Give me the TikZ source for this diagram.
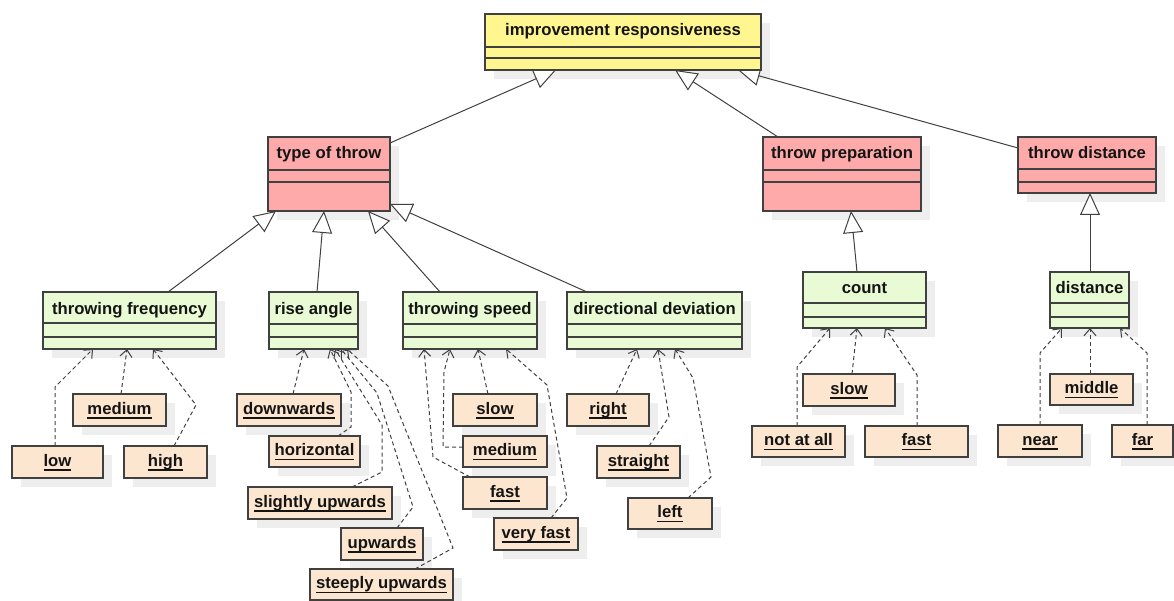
\documentclass[tikz,border=0pt]{standalone}
\usepackage{fontspec}
\setmainfont{Liberation Sans}
\usetikzlibrary{arrows.meta}
\pgfdeclarelayer{shadow}
\pgfdeclarelayer{edges}
\pgfsetlayers{shadow,edges,main}
\definecolor{yel}{RGB}{255,246,143}
\definecolor{redc}{RGB}{255,170,170}
\definecolor{grn}{RGB}{233,251,212}
\definecolor{pch}{RGB}{253,230,208}
\definecolor{shd}{RGB}{238,238,238}
\definecolor{lnc}{RGB}{64,64,64}
\definecolor{txt}{RGB}{20,20,20}
\newcommand\myul[1]{\leavevmode\setbox0\hbox{#1}\rlap{\rule[-4.7pt]{\wd0}{1.5pt}}\box0}
\newcommand\mkcls[9]{%
  \node[clsb, fill=#8, minimum width={#4-#2}, minimum height={#5-#3}, anchor=north west] (#1) at (#2,#3) {};
  \draw[cline] (#1.west |- 0,#6) -- (#1.east |- 0,#6);
  \draw[cline] (#1.west |- 0,#7) -- (#1.east |- 0,#7);
  \node[ttl, anchor=base] at ([yshift=-22pt]#1.north) {#9};}
\newcommand\mkinst[6]{%
  \node[instb, minimum width={#4-#2}, minimum height={#5-#3}, anchor=north west] (#1) at (#2,#3) {\myul{#6}};}
\begin{document}
\begin{tikzpicture}[x=1pt,y=-1pt,
  clsb/.style={draw=lnc, line width=1.3pt, rectangle, inner sep=0pt, outer sep=0pt},
  cline/.style={draw=lnc, line width=1.3pt},
  ttl/.style={font=\fontsize{16.7}{20}\selectfont\bfseries, text=txt, inner sep=0pt},
  instb/.style={draw=lnc, line width=1.3pt, fill=pch, rectangle, inner sep=0pt, outer sep=0pt,
    font=\fontsize{16.7}{20}\selectfont\bfseries, text=txt, text height=12pt, text depth=3.5pt},
  gen/.style={draw=lnc, line width=1pt, -{Triangle[length=22pt,width=20pt,fill=white]}},
  dep/.style={draw=lnc, line width=1pt, dash pattern=on 4pt off 3pt, -{Straight Barb[length=7pt,width=12pt]}}]
\useasboundingbox (0,0) rectangle (1174,601);
% classes
\mkcls{top}{485}{14}{761}{70}{47}{58}{yel}{improvement responsiveness}
\mkcls{tot}{268}{137}{390}{211}{170}{182}{redc}{type of throw}
\mkcls{tp}{763}{137}{921}{211}{170}{182}{redc}{throw preparation}
\mkcls{td}{1018}{137}{1156}{193}{169}{182}{redc}{throw distance}
\mkcls{tf}{43}{292}{216}{349}{323}{337}{grn}{throwing frequency}
\mkcls{ra}{269}{292}{358}{349}{324}{337}{grn}{rise angle}
\mkcls{ts}{403}{292}{537}{349}{324}{337}{grn}{throwing speed}
\mkcls{dd}{567}{292}{742}{349}{324}{337}{grn}{directional deviation}
\mkcls{cnt}{803}{272}{926}{328}{303}{317}{grn}{count}
\mkcls{dist}{1050}{272}{1129}{328}{303}{317}{grn}{distance}
% instances
\mkinst{medA}{73}{394}{166}{426}{medium}
\mkinst{low}{12}{446}{103}{478}{low}
\mkinst{high}{124}{446}{207}{478}{high}
\mkinst{down}{237}{394}{341}{426}{downwards}
\mkinst{horiz}{269}{436}{360}{467}{horizontal}
\mkinst{slup}{248}{487}{392}{519}{slightly upwards}
\mkinst{up}{341}{528}{423}{560}{upwards}
\mkinst{stup}{310}{569}{453}{600}{steeply upwards}
\mkinst{slowA}{453}{394}{537}{426}{slow}
\mkinst{medB}{463}{436}{547}{467}{medium}
\mkinst{fastA}{463}{477}{547}{509}{fast}
\mkinst{vfast}{494}{518}{578}{550}{very fast}
\mkinst{right}{567}{394}{649}{426}{right}
\mkinst{straight}{597}{446}{680}{478}{straight}
\mkinst{left}{628}{498}{712}{529}{left}
\mkinst{slowB}{803}{374}{895}{406}{slow}
\mkinst{nat}{752}{426}{845}{457}{not at all}
\mkinst{fastB}{865}{426}{968}{457}{fast}
\mkinst{middle}{1050}{374}{1133}{405}{middle}
\mkinst{near}{998}{425}{1082}{457}{near}
\mkinst{far}{1112}{425}{1173}{457}{far}
% shadows
\begin{pgfonlayer}{shadow}
\foreach \n in {top,tot,tp,td,tf,ra,ts,dd,cnt,dist,medA,low,high,down,horiz,slup,up,stup,slowA,medB,fastA,vfast,right,straight,left,slowB,nat,fastB,middle,near,far}
  \fill[shd] ([xshift=9pt,yshift=-9pt]\n.north west) rectangle ([xshift=9pt,yshift=-9pt]\n.south east);
\end{pgfonlayer}
% connectors
\begin{pgfonlayer}{edges}
\draw[gen] (tot.north east |- 0,143) -- (top.south -| 556,0);
\draw[gen] (tp.north -| 778,0) -- (top.south -| 675,0);
\draw[gen] (td.west |- 0,148) -- (top.south -| 738,0);
\draw[gen] (tf.north -| 168,0) -- (tot.south -| 276,0);
\draw[gen] (ra.north -| 317,0) -- (tot.south -| 324,0);
\draw[gen] (ts.north -| 440,0) -- (tot.south -| 368,0);
\draw[gen] (dd.north -| 587,0) -- (tot.east |- 0,204);
\draw[gen] (cnt.north -| 857,0) -- (tp.south -| 851,0);
\draw[gen] (dist.north -| 1090,0) -- (td.south -| 1090,0);
%
\draw[dep] (low.north -| 55,0) -- (55,387) -- (tf.south -| 93,0);
\draw[dep] (medA.north -| 121,0) -- (tf.south -| 127,0);
\draw[dep] (high.north -| 174,0) -- (196,405) -- (tf.south -| 153,0);
\draw[dep] (down.north -| 293,0) -- (ra.south -| 304,0);
\draw[dep] (horiz.north -| 338,0) -- (351,427) -- (351,392) -- (ra.south -| 330,0);
\draw[dep] (slup.north -| 352,0) -- (382,472) -- (382,425) -- (ra.south -| 335,0);
\draw[dep] (up.north -| 397,0) -- (413,507) -- (377,393) -- (ra.south -| 341,0);
\draw[dep] (stup.north -| 415,0) -- (453,548) -- (388,386) -- (ra.south -| 347,0);
\draw[dep] (slowA.north -| 488,0) -- (ts.south -| 478,0);
\draw[dep] (medB.west |- 0,447) -- (443,447) -- (444,372) -- (ts.south -| 450,0);
\draw[dep] (fastA.north -| 470,0) -- (433,457) -- (ts.south -| 424,0);
\draw[dep] (vfast.north -| 551,0) -- (567,498) -- (547,385) -- (ts.south -| 506,0);
\draw[dep] (right.north -| 616,0) -- (dd.south -| 637,0);
\draw[dep] (straight.north -| 649,0) -- (669,417) -- (dd.south -| 658,0);
\draw[dep] (left.north -| 688,0) -- (711,477) -- (693,378) -- (dd.south -| 675,0);
\draw[dep] (nat.north -| 797,0) -- (797,367) -- (cnt.south -| 830,0);
\draw[dep] (slowB.north -| 852,0) -- (cnt.south -| 857,0);
\draw[dep] (fastB.north -| 917,0) -- (917,375) -- (cnt.south -| 885,0);
\draw[dep] (near.north -| 1040,0) -- (1040,353) -- (dist.south -| 1062,0);
\draw[dep] (middle.north -| 1090,0) -- (dist.south -| 1090,0);
\draw[dep] (far.north -| 1147,0) -- (1147,353) -- (dist.south -| 1120,0);
\end{pgfonlayer}
\end{tikzpicture}
\end{document}
